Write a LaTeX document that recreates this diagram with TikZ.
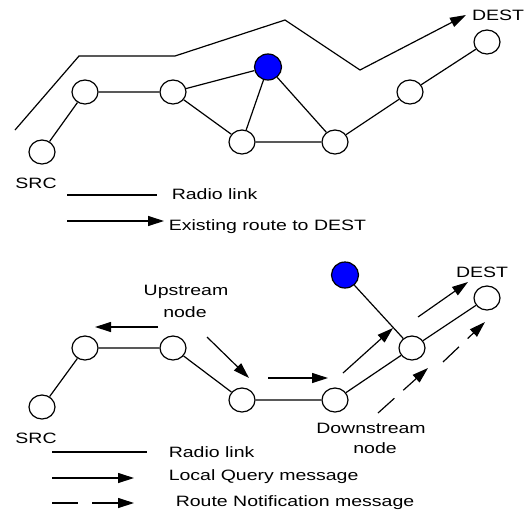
\documentclass[tikz,border=0pt]{standalone}
\usepackage{fontspec}
\setmainfont{Liberation Sans}
\usetikzlibrary{arrows.meta, positioning, shapes.geometric}

\tikzset{
  nd/.style={draw, ellipse, fill=white, minimum width=26pt, minimum height=24pt, inner sep=0pt},
  hit/.style={nd, fill=blue, minimum width=27pt, minimum height=26pt},
  lbl/.style={font=\fontsize{15}{17}\selectfont, xscale=1.3, inner sep=0pt},
  msg/.style={-{Triangle[length=16pt,width=10pt]}},
  note/.style={msg, dash pattern=on 22pt off 12pt}
}

\begin{document}
\begin{tikzpicture}[x=1pt, y=-1pt, line width=1.2pt]
  \useasboundingbox (0,0) rectangle (529,517);

  % top: existing route
  \node[nd] (ts) at (42,152) {};
  \node[nd] (ta) at (85,92) {};
  \node[nd] (tb) at (173,92) {};
  \node[hit] (tq) at (268,67) {};
  \node[nd] (tc) at (242,142) {};
  \node[nd] (td) at (335,142) {};
  \node[nd] (te) at (410,92) {};
  \node[nd] (tz) at (487,42) {};
  \draw (ts) -- (ta) -- (tb) -- (tq) -- (tc) -- (td) -- (te) -- (tz);
  \draw (tb) -- (tc);
  \draw (tq) -- (td);

  \coordinate (r0) at (15,130);
  \coordinate (r1) at (79,56);
  \coordinate (r2) at (175,56);
  \coordinate (r3) at (285,20);
  \coordinate (r4) at (360,70);
  \coordinate (r5) at (466,15);
  \draw[msg] (r0) -- (r1) -- (r2) -- (r3) -- (r4) -- (r5);

  \node[lbl] (tsrc) at (36,183) {SRC};
  \node[lbl] (tdest) at (498,15) {DEST};

  \coordinate (la) at (67,195);
  \coordinate (lb) at (157,195);
  \draw (la) -- (lb);
  \node[lbl, anchor=west] (tlink) at (171,194) {Radio link};
  \coordinate (lc) at (67,221);
  \coordinate (ld) at (164,221);
  \draw[msg] (lc) -- (ld);
  \node[lbl, anchor=west] (troute) at (168,227) {Existing route to DEST};

  % bottom: local repair
  \node[nd] (bs) at (42,407) {};
  \node[nd] (ba) at (85,348) {};
  \node[nd] (bb) at (173,348) {};
  \node[nd] (bc) at (242,400) {};
  \node[nd] (bd) at (335,400) {};
  \node[nd] (be) at (412,348) {};
  \node[nd] (bz) at (487,298) {};
  \node[hit] (bq) at (345,275) {};
  \draw (bs) -- (ba) -- (bb) -- (bc) -- (bd) -- (be) -- (bz);
  \draw (bq) -- (be);

  \node[lbl] (bup) at (186,292) {Upstream};
  \node[lbl] (bupn) at (185,312) {node};
  \node[lbl] (bdown) at (371,428) {Downstream};
  \node[lbl] (bdownn) at (375,448) {node};
  \node[lbl] (bsrc) at (36,438) {SRC};
  \node[lbl] (bdest) at (482,272) {DEST};

  \coordinate (q0) at (158,327);  \coordinate (q1) at (95,327);
  \coordinate (q2) at (207,337);  \coordinate (q3) at (249,378);
  \coordinate (q4) at (268,378);  \coordinate (q5) at (328,378);
  \coordinate (q6) at (343,373);  \coordinate (q7) at (393,328);
  \coordinate (q8) at (418,317);  \coordinate (q9) at (468,282);
  \draw[msg] (q0) -- (q1);
  \draw[msg] (q2) -- (q3);
  \draw[msg] (q4) -- (q5);
  \draw[msg] (q6) -- (q7);
  \draw[msg] (q8) -- (q9);

  \coordinate (n0) at (378,413);  \coordinate (n1) at (428,368);
  \coordinate (n2) at (443,362);  \coordinate (n3) at (485,322);
  \draw[note] (n0) -- (n1);
  \draw[note] (n2) -- (n3);

  \coordinate (le) at (52,452);  \coordinate (lf) at (147,452);
  \draw (le) -- (lf);
  \node[lbl, anchor=west] (blink) at (168,452) {Radio link};
  \coordinate (lg) at (52,478);  \coordinate (lh) at (134,478);
  \draw[msg] (lg) -- (lh);
  \node[lbl, anchor=west] (bquery) at (168,477) {Local Query message};
  \coordinate (li) at (52,503);  \coordinate (lj) at (134,503);
  \draw[msg, dash pattern=on 26pt off 14pt] (li) -- (lj);
  \node[lbl, anchor=west] (bnote) at (175,503) {Route Notification message};
\end{tikzpicture}
\end{document}
